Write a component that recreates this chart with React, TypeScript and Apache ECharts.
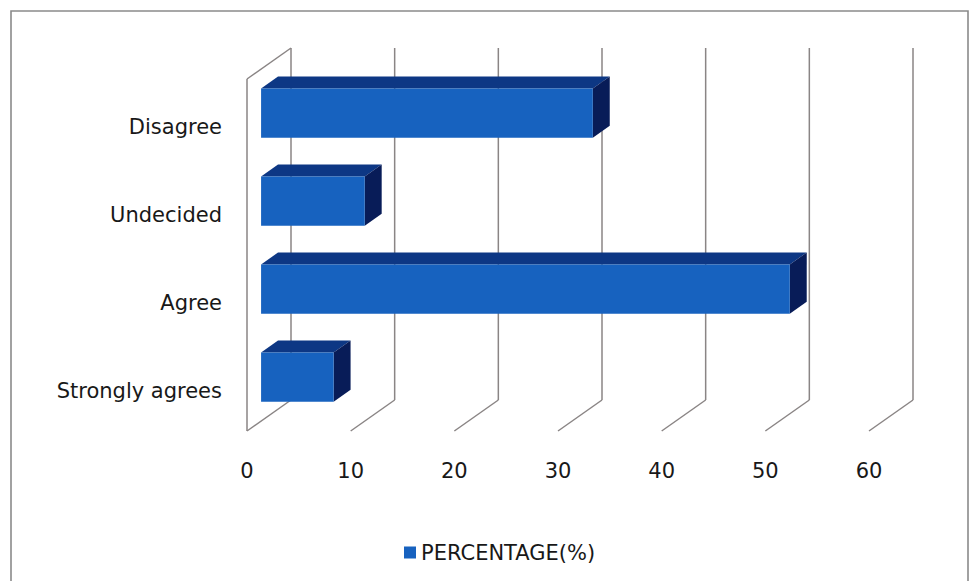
import React, { useEffect, useRef } from "react";
import * as echarts from "echarts";

// Survey responses, listed top to bottom as drawn
const categories = ["Disagree", "Undecided", "Agree", "Strongly agrees"];
const percentages = [32, 10, 51, 7];
const xTicks = [0, 10, 20, 30, 40, 50, 60];
const seriesName = "PERCENTAGE(%)";

const FONT = "DejaVu Sans";
const TEXT = "#181818";
const GRID_LINE = "#8a8585";

// Oblique depth of the chart box (front edge -> back wall), in pixels
const DEPTH = { x: 44, y: -31 };
// Bars sit between these fractions of the depth
const BAR_NEAR = 0.32;
const BAR_FAR = 0.705;

export default function App() {
  const ref = useRef<HTMLDivElement>(null);

  useEffect(() => {
    if (!ref.current) return;
    const chart = echarts.init(ref.current, null, { renderer: "svg" });

    const wallSeries = {
      type: "custom",
      name: "walls",
      silent: true,
      clip: false,
      encode: { x: 0, y: 1 },
      data: xTicks.map((v) => [v, 0]),
      renderItem: (params: any, api: any) => {
        const cs = params.coordSys;
        const v = api.value(0);
        const x = api.coord([v, 0])[0];
        const floorY = cs.y + cs.height;
        const topY = cs.y;
        const lineStyle = { stroke: GRID_LINE, lineWidth: 1.5, fill: null };
        const children: any[] = [
          // floor line running back from the front edge
          {
            type: "line",
            shape: { x1: x, y1: floorY, x2: x + DEPTH.x, y2: floorY + DEPTH.y },
            style: lineStyle,
          },
          // vertical line on the back wall
          {
            type: "line",
            shape: {
              x1: x + DEPTH.x,
              y1: floorY + DEPTH.y,
              x2: x + DEPTH.x,
              y2: topY + DEPTH.y,
            },
            style: lineStyle,
          },
        ];
        if (v === xTicks[0]) {
          // left side wall outline
          children.push(
            {
              type: "line",
              shape: { x1: x, y1: floorY, x2: x, y2: topY },
              style: lineStyle,
            },
            {
              type: "line",
              shape: { x1: x, y1: topY, x2: x + DEPTH.x, y2: topY + DEPTH.y },
              style: lineStyle,
            }
          );
        }
        return { type: "group", children };
      },
    };

    const barSeries = {
      type: "custom",
      name: seriesName,
      clip: false,
      encode: { x: 0, y: 1 },
      itemStyle: { color: "#1762BF" },
      data: percentages.map((p, i) => [p, i]),
      renderItem: (params: any, api: any) => {
        const idx = api.value(1);
        const start = api.coord([0, idx]);
        const end = api.coord([api.value(0), idx]);
        const band = api.size([0, 1])[1];
        const h = band * 0.56;
        const ox = DEPTH.x * BAR_NEAR;
        const oy = DEPTH.y * BAR_NEAR;
        const dx = DEPTH.x * (BAR_FAR - BAR_NEAR);
        const dy = DEPTH.y * (BAR_FAR - BAR_NEAR);
        const x0 = start[0] + ox;
        const x1 = end[0] + ox;
        const yT = start[1] + oy - h / 2;
        const yB = start[1] + oy + h / 2;
        return {
          type: "group",
          children: [
            {
              type: "polygon",
              shape: {
                points: [
                  [x0, yT],
                  [x1, yT],
                  [x1 + dx, yT + dy],
                  [x0 + dx, yT + dy],
                ],
              },
              style: { fill: "#0D3784" },
            },
            {
              type: "polygon",
              shape: {
                points: [
                  [x1, yT],
                  [x1 + dx, yT + dy],
                  [x1 + dx, yB + dy],
                  [x1, yB],
                ],
              },
              style: { fill: "#081C58" },
            },
            {
              type: "rect",
              shape: { x: x0, y: yT, width: x1 - x0, height: yB - yT },
              style: { fill: "#1762BF" },
            },
          ],
        };
      },
    };

    const hiddenAxisParts = {
      axisLine: { show: false },
      axisTick: { show: false },
      splitLine: { show: false },
    };

    chart.setOption({
      animation: false,
      backgroundColor: "#ffffff",
      grid: [
        // front plane of the chart box
        { left: 247, top: 79, width: 622, height: 352 },
        // category label band, set slightly lower than the box
        { left: 247, top: 83, width: 622, height: 352 },
      ],
      xAxis: [
        {
          type: "value",
          gridIndex: 0,
          min: 0,
          max: 60,
          interval: 10,
          ...hiddenAxisParts,
          axisLabel: {
            margin: 29,
            fontFamily: FONT,
            fontSize: 21,
            color: TEXT,
          },
        },
        {
          type: "value",
          gridIndex: 1,
          min: 0,
          max: 60,
          interval: 10,
          show: false,
        },
      ],
      yAxis: [
        {
          type: "category",
          gridIndex: 0,
          data: categories,
          inverse: true,
          ...hiddenAxisParts,
          axisLabel: { show: false },
        },
        {
          type: "category",
          gridIndex: 1,
          data: categories,
          inverse: true,
          ...hiddenAxisParts,
          axisLabel: {
            margin: 25,
            fontFamily: FONT,
            fontSize: 21,
            color: TEXT,
          },
        },
      ],
      legend: {
        data: [{ name: seriesName, icon: "rect" }],
        left: 399,
        top: 537,
        itemWidth: 12,
        itemHeight: 12,
        itemGap: 0,
        textStyle: { fontFamily: FONT, fontSize: 21, color: TEXT },
      },
      graphic: [
        {
          type: "rect",
          shape: { x: 11, y: 11, width: 957, height: 620 },
          style: { fill: null, stroke: "#8a8a8a", lineWidth: 1.6 },
          silent: true,
        },
      ],
      series: [wallSeries, barSeries],
    });

    return () => chart.dispose();
  }, []);

  return (
    <div
      ref={ref}
      style={{ position: "fixed", left: 0, top: 0, width: 970, height: 581 }}
    />
  );
}
